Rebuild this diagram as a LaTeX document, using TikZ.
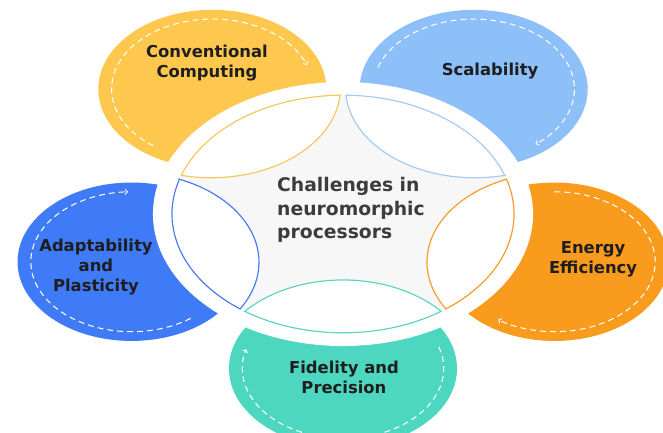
\documentclass[tikz,border=0pt]{standalone}
\usepackage{fontspec}
\setmainfont{DejaVu Sans}

\definecolor{convfill}{HTML}{FEC84F}
\definecolor{scalefill}{HTML}{8DBFF9}
\definecolor{energyfill}{HTML}{F99B1C}
\definecolor{fidelfill}{HTML}{4DD7C1}
\definecolor{adaptfill}{HTML}{3F7BF6}
\definecolor{convline}{HTML}{F8C65E}
\definecolor{scaleline}{HTML}{A6CAF6}
\definecolor{energyline}{HTML}{F69A2A}
\definecolor{fidelline}{HTML}{5AD5C3}
\definecolor{adaptline}{HTML}{4A7AF0}
\definecolor{hubfill}{HTML}{F7F7F7}
\definecolor{petalink}{HTML}{1E1E1E}
\definecolor{hubink}{HTML}{3C3C3C}

\begin{document}
\begin{tikzpicture}[x=5.7cm, y=3.96cm,
	lens/.style={fill=white, line width=1pt},
	dashloop/.style={white, line width=0.9pt, dash pattern=on 5pt off 3.5pt, ->},
	petaltext/.style={text=petalink, font=\fontsize{14}{17}\selectfont\bfseries, align=center},
	hubtext/.style={text=hubink, font=\fontsize{16}{20}\selectfont\bfseries, align=left}]
	
	\useasboundingbox (-1.805,-1.652) rectangle (1.684,1.621);
	\clip (-1.805,-1.652) rectangle (1.684,1.621);
	
	% outer petals
	\fill[convfill] (126:1.17) circle (0.6);
	\fill[scalefill] (54:1.17) circle (0.6);
	\fill[energyfill] (342:1.17) circle (0.6);
	\fill[fidelfill] (270:1.17) circle (0.6);
	\fill[adaptfill] (198:1.17) circle (0.6);
	
	% white ring and hub
	\fill[white] (0,0) circle (1);
	\fill[hubfill] (0,0) circle (0.9);
	
	% lenses round the hub
	\draw[lens, draw=convline] (91:0.9) arc[start angle=91, end angle=161, radius=0.9]
		arc[start angle=256.6, end angle=355.4, radius=0.68] -- cycle;
	\draw[lens, draw=scaleline] (19:0.9) arc[start angle=19, end angle=89, radius=0.9]
		arc[start angle=184.6, end angle=283.4, radius=0.68] -- cycle;
	\draw[lens, draw=energyline] (307:0.9) arc[start angle=307, end angle=377, radius=0.9]
		arc[start angle=112.6, end angle=211.4, radius=0.68] -- cycle;
	\draw[lens, draw=fidelline] (235:0.9) arc[start angle=235, end angle=305, radius=0.9]
		arc[start angle=40.6, end angle=139.4, radius=0.68] -- cycle;
	\draw[lens, draw=adaptline] (163:0.9) arc[start angle=163, end angle=233, radius=0.9]
		arc[start angle=328.6, end angle=427.4, radius=0.68] -- cycle;
	
	% dashed loops inside the petals
	\draw[dashloop] (126:1.17) ++(234:0.53) arc[start angle=234, end angle=20, radius=0.53];
	\draw[dashloop] (54:1.17) ++(162:0.53) arc[start angle=162, end angle=-52, radius=0.53];
	\draw[dashloop] (342:1.17) ++(90:0.53) arc[start angle=90, end angle=-124, radius=0.53];
	\draw[dashloop] (270:1.17) ++(18:0.53) arc[start angle=18, end angle=-196, radius=0.53];
	\draw[dashloop] (198:1.17) ++(306:0.53) arc[start angle=306, end angle=92, radius=0.53];
	
	% texts
	\node[hubtext] (hub) at (0.042,0.03) {Challenges in\\neuromorphic\\processors};
	\node[petaltext] (conv) at (-0.716,1.144) {Conventional\\Computing};
	\node[petaltext] (scale) at (0.774,1.083) {Scalability};
	\node[petaltext] (energy) at (1.316,-0.341) {Energy\\Efficiency};
	\node[petaltext] (fidel) at (0.005,-1.235) {Fidelity and\\Precision};
	\node[petaltext] (adapt) at (-1.3,-0.4) {Adaptability\\and\\Plasticity};
	
\end{tikzpicture}
\end{document}
